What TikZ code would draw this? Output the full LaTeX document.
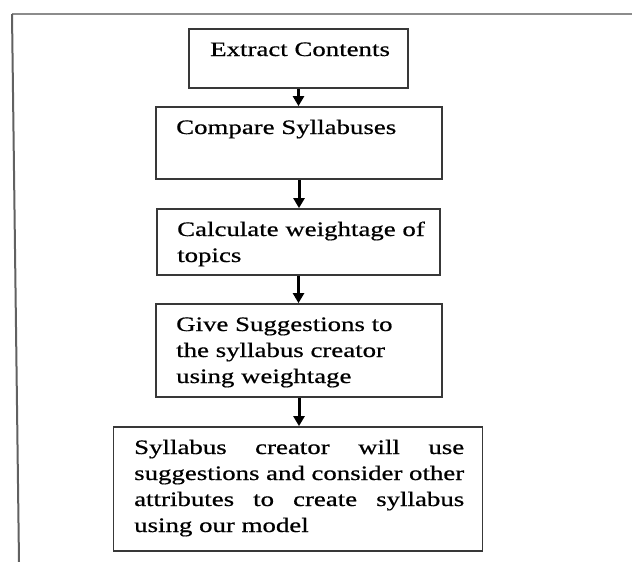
\documentclass[tikz,border=0pt]{standalone}
\usepackage{fontspec}
\setmainfont{Liberation Serif}[FakeStretch=1.31,FakeBold=0.6]
\usetikzlibrary{arrows.meta}

% one line of a step text: plain, or spread to the full text width
\newcommand\plainline[1]{\hbox{#1}}
\newcommand\fullline[1]{\hbox to 330pt{#1}}
\newcommand\steptext[1]{\vtop{\baselineskip=26pt\lineskiplimit=-20pt #1}}

\begin{document}
\begin{tikzpicture}[x=1pt,y=-1pt,
  stepbox/.style={draw=black!78,line width=1.8pt,inner sep=0pt,fill=white},
  steplabel/.style={anchor=base west,inner sep=0pt,font=\fontsize{20.5}{26}\selectfont},
  flow/.style={line width=3pt,-{Triangle[length=10pt,width=11pt]}},
  frameline/.style={line width=2pt}]
\useasboundingbox (0,0) rectangle (632,562);

% partial frame round the chart
\coordinate (fc) at (12,14);
\coordinate (fr) at (632,14);
\coordinate (fb) at (19,562);
\draw[frameline,draw=black!45] (fc) -- (fr);
\draw[frameline,draw=black!62] (fc) -- (fb);

% steps
\node[stepbox,minimum width=219pt,minimum height=59pt] (b1) at (298.5,58.5) {};
\node[stepbox,minimum width=286pt,minimum height=72pt] (b2) at (299,143) {};
\node[stepbox,minimum width=283pt,minimum height=66pt] (b3) at (298.5,242) {};
\node[stepbox,minimum width=286pt,minimum height=93pt] (b4) at (299,350.5) {};
\node[stepbox,minimum width=369pt,minimum height=124pt] (b5) at (298,489) {};

\node[steplabel] (t1) at (210,56) {\steptext{\plainline{Extract Contents}}};
\node[steplabel] (t2) at (176,134) {\steptext{\plainline{Compare Syllabuses}}};
\node[steplabel] (t3) at (177,236) {\steptext{%
  \plainline{Calculate weightage of}
  \plainline{topics}}};
\node[steplabel] (t4) at (176,331) {\steptext{%
  \plainline{Give Suggestions to}
  \plainline{the syllabus creator}
  \plainline{using weightage}}};
\node[steplabel] (t5) at (134,454) {\steptext{%
  \fullline{Syllabus creator will use}
  \fullline{suggestions and consider other}
  \fullline{attributes to create syllabus}
  \plainline{using our model}}};

% connectors
\draw[flow] (b1.south) -- (b1.south |- b2.north);
\draw[flow] (b2.south) -- (b2.south |- b3.north);
\draw[flow] (b3.south) -- (b3.south |- b4.north);
\draw[flow] (b4.south) -- (b4.south |- b5.north);
\end{tikzpicture}
\end{document}
